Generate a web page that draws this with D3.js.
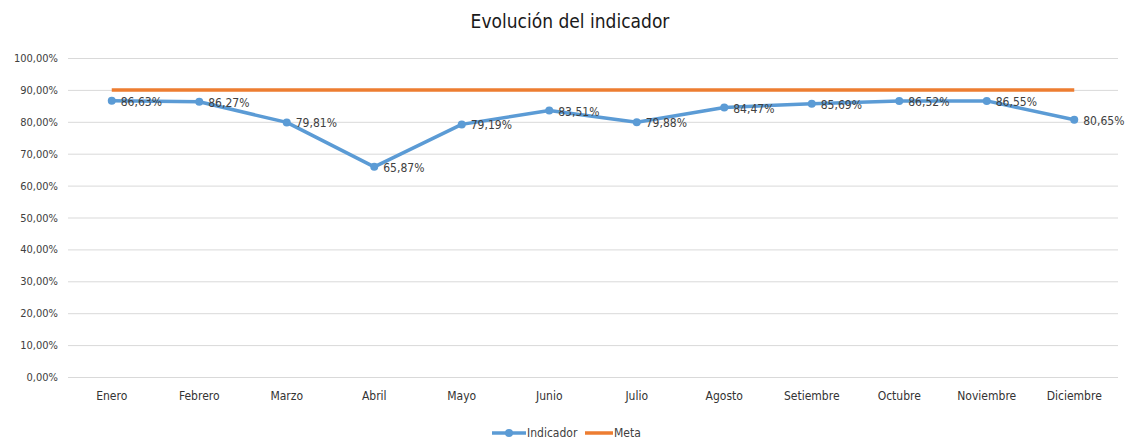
<!DOCTYPE html>
<html>
<head>
<meta charset="utf-8">
<script src="https://cdn.jsdelivr.net/npm/d3@7"></script>
<style>
	body { margin: 0; background: #fff; }
	text { font-family: 'Liberation Sans Narrow', 'Arial Narrow', 'DejaVu Sans Condensed', sans-serif; fill: #404040; }
</style>
</head>
<body>
<script>
var months = ['Enero', 'Febrero', 'Marzo', 'Abril', 'Mayo', 'Junio', 'Julio',
	'Agosto', 'Setiembre', 'Octubre', 'Noviembre', 'Diciembre'];
var indicador = [86.63, 86.27, 79.81, 65.87, 79.19, 83.51, 79.88, 84.47, 85.69, 86.52, 86.55, 80.65];
var meta = [90, 90, 90, 90, 90, 90, 90, 90, 90, 90, 90, 90];
var yTicks = [0, 10, 20, 30, 40, 50, 60, 70, 80, 90, 100];

var width = 1134, height = 441;
var margin = { top: 58, right: 16, bottom: 64, left: 68 };

var fmt = function(v) { return d3.format('.2f')(v).replace('.', ',') + '%'; };

var svg = d3.select('body').append('svg')
	.attr('width', width)
	.attr('height', height);

var x = d3.scaleBand()
	.domain(months)
	.range([margin.left, width - margin.right]);

var y = d3.scaleLinear()
	.domain([0, 100])
	.range([height - margin.bottom, margin.top]);

// title
svg.append('text')
	.attr('x', 570)
	.attr('y', 28)
	.attr('text-anchor', 'middle')
	.style('font-size', '19px')
	.style('fill', '#1a1a1a')
	.text('Evolución del indicador');

// grid + y labels
var yAxis = svg.append('g')
	.attr('transform', 'translate(' + margin.left + ',0)')
	.call(d3.axisLeft(y).tickValues(yTicks)
		.tickSize(-(width - margin.left - margin.right))
		.tickPadding(10)
		.tickFormat(fmt));
yAxis.select('.domain').remove();
yAxis.selectAll('line').attr('stroke', '#d9d9d9');
yAxis.selectAll('text').style('font-size', '11px').style('fill', '#404040');

// x labels
var xAxis = svg.append('g')
	.attr('transform', 'translate(0,' + (height - margin.bottom) + ')')
	.call(d3.axisBottom(x).tickSize(0).tickPadding(14));
xAxis.select('.domain').remove();
xAxis.selectAll('text').style('font-size', '12px').style('fill', '#333');

var cx = function(d, i) { return x(months[i]) + x.bandwidth() / 2; };

// meta line
svg.append('path')
	.datum(meta)
	.attr('fill', 'none')
	.attr('stroke', '#ED7D31')
	.attr('stroke-width', 3.5)
	.attr('d', d3.line().x(cx).y(function(d) { return y(d); }));

// indicador line
svg.append('path')
	.datum(indicador)
	.attr('fill', 'none')
	.attr('stroke', '#5B9BD5')
	.attr('stroke-width', 3.5)
	.attr('stroke-linejoin', 'round')
	.attr('d', d3.line().x(cx).y(function(d) { return y(d); }));

svg.selectAll('circle.pt')
	.data(indicador)
	.enter().append('circle')
	.attr('class', 'pt')
	.attr('cx', cx)
	.attr('cy', function(d) { return y(d); })
	.attr('r', 4)
	.attr('fill', '#5B9BD5');

svg.selectAll('text.lbl')
	.data(indicador)
	.enter().append('text')
	.attr('class', 'lbl')
	.attr('x', function(d, i) { return cx(d, i) + 9; })
	.attr('y', function(d) { return y(d) + 5; })
	.style('font-size', '12px')
	.style('fill', '#404040')
	.text(fmt);

// legend
var lg = svg.append('g').attr('transform', 'translate(492,433)');
lg.append('line').attr('x1', 0).attr('x2', 34).attr('y1', 0).attr('y2', 0)
	.attr('stroke', '#5B9BD5').attr('stroke-width', 3.5);
lg.append('circle').attr('cx', 17).attr('cy', 0).attr('r', 4).attr('fill', '#5B9BD5');
lg.append('text').attr('x', 35).attr('y', 4).style('font-size', '12px').text('Indicador');
lg.append('line').attr('x1', 93).attr('x2', 121).attr('y1', 0).attr('y2', 0)
	.attr('stroke', '#ED7D31').attr('stroke-width', 3.5);
lg.append('text').attr('x', 122).attr('y', 4).style('font-size', '12px').text('Meta');
</script>
</body>
</html>
